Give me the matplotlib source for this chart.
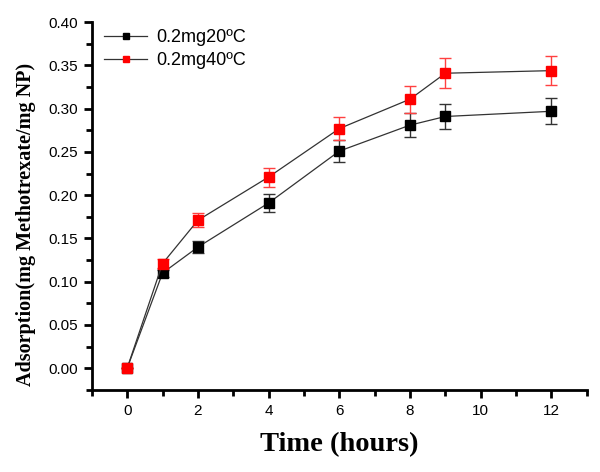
import matplotlib
matplotlib.use("Agg")
import matplotlib.pyplot as plt
from matplotlib.ticker import MultipleLocator, FormatStrFormatter
from matplotlib.lines import Line2D

time_h = [0, 1, 2, 4, 6, 8, 9, 12]
ads_20 = [0.0, 0.110, 0.140, 0.191, 0.251, 0.281, 0.291, 0.297]
err_20 = [0.0, 0.004, 0.007, 0.010, 0.013, 0.014, 0.015, 0.015]
ads_40 = [0.0, 0.121, 0.171, 0.221, 0.277, 0.311, 0.341, 0.344]
err_40 = [0.0, 0.005, 0.008, 0.011, 0.0135, 0.0155, 0.0175, 0.017]
labels = ["0.2mg20ºC", "0.2mg40ºC"]

fig = plt.figure(figsize=(6.0, 4.72), dpi=100)
ax = fig.add_axes([0.153, 0.174, 0.825, 0.779])

ax.errorbar(time_h, ads_20, yerr=err_20, color="#333333", lw=0.9,
            marker="s", ms=7, mfc="black", mec="black",
            ecolor="#333333", elinewidth=1.0, capsize=4, capthick=1.0,
            zorder=3)
ax.errorbar(time_h, ads_40, yerr=err_40, color="#333333", lw=0.9,
            marker="s", ms=7, mfc="red", mec="red",
            ecolor="#ff4040", elinewidth=1.0, capsize=4, capthick=1.0,
            zorder=4)

ax.set_xlim(-1, 13)
ax.set_ylim(-0.025, 0.40)
ax.xaxis.set_major_locator(MultipleLocator(2))
ax.xaxis.set_minor_locator(MultipleLocator(1))
ax.yaxis.set_major_locator(MultipleLocator(0.05))
ax.yaxis.set_minor_locator(MultipleLocator(0.025))
ax.yaxis.set_major_formatter(FormatStrFormatter("%.2f"))

for s in ["top", "right"]:
    ax.spines[s].set_visible(False)
for s in ["left", "bottom"]:
    ax.spines[s].set_linewidth(2)

ax.tick_params(which="major", direction="out", length=6, width=2,
               labelsize=11, pad=4)
ax.tick_params(which="minor", direction="out", length=4, width=2)
for lab in ax.get_xticklabels() + ax.get_yticklabels():
    lab.set_family("Liberation Sans")

ax.set_xlabel("Time (hours)", family="Liberation Serif", fontweight="bold",
              fontsize=20.5)
ax.xaxis.set_label_coords(0.5, -0.115)
ax.set_ylabel("Adsorption(mg Methotrexate/mg NP)", family="Liberation Serif",
              fontweight="bold", fontsize=14.5)
ax.yaxis.set_label_coords(-0.112, 0.45)

handles = [
    Line2D([], [], color="#333333", lw=0.9, marker="s", ms=5, mfc="black", mec="black"),
    Line2D([], [], color="#333333", lw=0.9, marker="s", ms=5, mfc="red", mec="red"),
]
ax.legend(handles, labels, loc="upper left", frameon=False,
          prop={"family": "Liberation Sans", "size": 13},
          handlelength=2.4, handletextpad=0.5, borderaxespad=0.0, labelspacing=0.3,
          bbox_to_anchor=(0.01, 1.0))

fig.savefig("out.png", dpi=100)
